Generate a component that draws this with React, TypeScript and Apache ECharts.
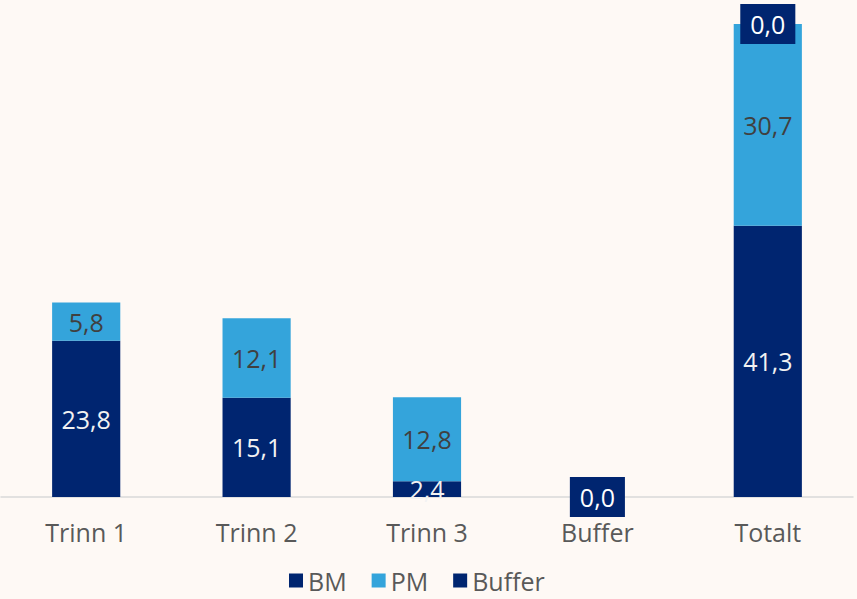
import React, { useEffect, useRef } from "react";
import * as echarts from "echarts";

const categories = ["Trinn 1", "Trinn 2", "Trinn 3", "Buffer", "Totalt"];
const bmValues: (number | null)[] = [23.8, 15.1, 2.4, null, 41.3];
const pmValues: (number | null)[] = [5.8, 12.1, 12.8, null, 30.7];
const bufferValues: (number | null)[] = [null, null, null, 0.0, 0.0];

const NAVY = "#002570";
const LIGHT = "#34A4DB";
const FONT = "'Open Sans', sans-serif";
const FS = 25;

const fmt = (p: any) =>
  p.value === null || p.value === undefined ? "" : Number(p.value).toFixed(1).replace(".", ",");

export default function App() {
  const ref = useRef<HTMLDivElement>(null);
  useEffect(() => {
    document.body.style.margin = "0";
    document.body.style.background = "#FEF9F5";
    const chart = echarts.init(ref.current!, undefined, { renderer: "svg" });
    chart.setOption({
      animation: false,
      backgroundColor: "#FEF9F5",
      textStyle: { fontFamily: FONT },
      grid: { left: 1, right: 4, top: 24, bottom: 102, containLabel: false },
      legend: {
        data: ["BM", "PM", "Buffer"],
        bottom: 1,
        left: 284,
        padding: 5,
        icon: "rect",
        itemWidth: 14,
        itemHeight: 14,
        itemGap: 25,
        textStyle: { color: "#595959", fontSize: FS, fontFamily: FONT, lineHeight: 25 },
      },
      xAxis: {
        type: "category",
        data: categories,
        axisLine: { show: true, lineStyle: { color: "#D9D9D9", width: 1.5 } },
        axisTick: { show: false },
        axisLabel: { color: "#595959", fontSize: FS, margin: 22, fontFamily: FONT },
      },
      yAxis: {
        type: "value",
        min: 0,
        max: 72,
        show: false,
        splitLine: { show: false },
      },
      series: [
        {
          name: "BM",
          type: "bar",
          stack: "total",
          barCategoryGap: "60%",
          data: bmValues,
          itemStyle: { color: NAVY },
          label: {
            show: true,
            position: "inside",
            color: "#F2F2F2",
            fontSize: FS,
            fontFamily: FONT,
            formatter: fmt,
          },
        },
        {
          name: "PM",
          type: "bar",
          stack: "total",
          barCategoryGap: "60%",
          data: pmValues,
          itemStyle: { color: LIGHT },
          label: {
            show: true,
            position: "inside",
            color: "#404040",
            fontSize: FS,
            fontFamily: FONT,
            formatter: fmt,
          },
        },
        {
          name: "Buffer",
          type: "bar",
          stack: "total",
          barCategoryGap: "60%",
          data: bufferValues,
          itemStyle: { color: NAVY },
          label: {
            show: true,
            position: "inside",
            color: "#FFFFFF",
            fontSize: FS,
            fontFamily: FONT,
            backgroundColor: NAVY,
            padding: [7, 10],
            lineHeight: 26,
            formatter: fmt,
          },
        },
      ],
    });
    return () => chart.dispose();
  }, []);
  return (
    <div
      ref={ref}
      style={{ position: "fixed", left: 0, top: 0, width: 857, height: 599 }}
    />
  );
}
